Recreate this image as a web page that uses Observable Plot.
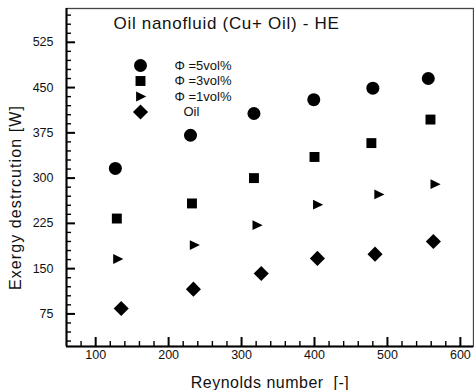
<!DOCTYPE html>
<html>
<head>
<meta charset="utf-8">
<script src="https://cdn.jsdelivr.net/npm/d3@7"></script>
<script src="https://cdn.jsdelivr.net/npm/@observablehq/plot@0.6"></script>
<style>
  html, body { margin: 0; padding: 0; background: #fff; }
  #chart svg { display: block; }
</style>
</head>
<body>
<div id="chart"></div>
<script>
// ---- data ----
const title = "Oil nanofluid (Cu+ Oil) - HE";
const xLabel = "Reynolds number  [-]";
const yLabel = "Exergy destrcution [W]";

const seriesNames = ["\u03A6 =5vol%", "\u03A6 =3vol%", "\u03A6 =1vol%", "Oil"];

const re5 = [127, 230, 317, 399, 480, 556];
const ex5 = [316, 371, 407, 430, 449, 465];

const re3 = [129, 232, 317, 400, 478, 559];
const ex3 = [233, 258, 300, 335, 358, 397];

const re1 = [130, 235, 321, 404, 488, 565];
const ex1 = [166, 189, 222, 256, 273, 290];

const reOil = [135, 234, 327, 404, 483, 563];
const exOil = [84, 116, 142, 167, 174, 195];

const xTicks = [100, 200, 300, 400, 500, 600];
const yTicks = [75, 150, 225, 300, 375, 450, 525];
const xDomain = [60, 618];
const yDomain = [21, 581];

// ---- layout ----
const W = 474, H = 390;
const mL = 66, mT = 8, mR = 1, mB = 44;
const frameW = W - mL - mR, frameH = H - mT - mB;
const majorLen = 9, minorLen = 5;
// tick lengths expressed in data units through the scale spans
const yPerPx = (yDomain[1] - yDomain[0]) / frameH;
const xPerPx = (xDomain[1] - xDomain[0]) / frameW;

// ---- derived ----
const xMinor = d3.range(80, 618, 20).filter(v => !xTicks.includes(v));
const yMinor = d3.range(30, 581, 15).filter(v => !yTicks.includes(v));

const rightTriangle = {
  draw(context, size) {
    const r = Math.sqrt(size / Math.PI);
    context.moveTo(r * 1.0, 0);
    context.lineTo(-r * 0.75, -r * 0.85);
    context.lineTo(-r * 0.75, r * 0.85);
    context.closePath();
  }
};
const symbols = [d3.symbolCircle, d3.symbolSquare, rightTriangle, d3.symbolDiamond2];
const radii = [6.5, 5.6, 5.8, 6.8];

const groups = [[re5, ex5], [re3, ex3], [re1, ex1], [reOil, exOil]];
const rows = groups.flatMap(([xs, ys], s) => xs.map((x, i) => ({series: s, x, y: ys[i]})));

const font = "'Liberation Sans', Arial, Helvetica, sans-serif";

const marks = [];
// frame
marks.push(Plot.frame({stroke: "#444", strokeWidth: 1.3, fill: "none"}));
// data points
groups.forEach((g, s) => {
  marks.push(Plot.dot(rows.filter(d => d.series === s), {
    x: "x", y: "y", symbol: () => symbols[s], r: radii[s], fill: "#000", stroke: "none"
  }));
});
// tick labels
marks.push(Plot.axisX(xTicks, {anchor: "bottom", tickSize: 0, tickPadding: 4, fontSize: 12.5, fill: "#111", label: null}));
marks.push(Plot.axisY(yTicks, {anchor: "left", tickSize: 0, tickPadding: 13, fontSize: 12.5, fill: "#111", label: null}));
// axis labels
marks.push(Plot.text([xLabel], {frameAnchor: "bottom", dy: 36, text: d => d, fontSize: 16, fill: "#111", textAnchor: "middle", lineAnchor: "middle", fontFamily: font}));
marks.push(Plot.text([yLabel], {frameAnchor: "left", dx: -51, dy: 20, rotate: -90, text: d => d, fontSize: 16, fill: "#111", textAnchor: "middle", lineAnchor: "middle", fontFamily: font}));
// title inside frame
marks.push(Plot.text([title], {frameAnchor: "top-left", dx: 47, dy: 15, text: d => d, fontSize: 17, fill: "#111", textAnchor: "start", lineAnchor: "middle", fontFamily: font}));
// legend
seriesNames.forEach((name, i) => {
  marks.push(Plot.dot([name], {frameAnchor: "top-left", dx: 74, dy: 57 + i * 15.5, symbol: () => symbols[i], r: radii[i], fill: "#000", stroke: "none"}));
  marks.push(Plot.text([name], {frameAnchor: "top-left", dx: i === 3 ? 117 : 108, dy: 57 + i * 15.5, text: d => d, fontSize: 13, fill: "#111", textAnchor: "start", lineAnchor: "middle", fontFamily: font}));
});
// axis lines and inward ticks, drawn last
marks.push(Plot.ruleY([yDomain[0]], {stroke: "black", strokeWidth: 2}));
marks.push(Plot.ruleX([xDomain[0]], {stroke: "black", strokeWidth: 2}));
marks.push(Plot.ruleX(xTicks, {x: d => d, y1: yDomain[0], y2: yDomain[0] + majorLen * yPerPx, stroke: "black", strokeWidth: 2}));
marks.push(Plot.ruleX(xMinor, {x: d => d, y1: yDomain[0], y2: yDomain[0] + minorLen * yPerPx, stroke: "black", strokeWidth: 1.4}));
marks.push(Plot.ruleY(yTicks, {y: d => d, x1: xDomain[0], x2: xDomain[0] + majorLen * xPerPx, stroke: "black", strokeWidth: 2}));
marks.push(Plot.ruleY(yMinor, {y: d => d, x1: xDomain[0], x2: xDomain[0] + minorLen * xPerPx, stroke: "black", strokeWidth: 1.4}));

const chart = Plot.plot({
  width: W,
  height: H,
  marginLeft: mL,
  marginTop: mT,
  marginRight: mR,
  marginBottom: mB,
  style: {fontFamily: font, background: "#fff"},
  x: {domain: xDomain, axis: null},
  y: {domain: yDomain, axis: null},
  marks
});
// letter spacing to match the wide lettering of the reference
d3.select(chart).selectAll("text").each(function() {
  const t = this.textContent;
  if (t === xLabel) this.setAttribute("letter-spacing", "0.5");
  if (t === yLabel) this.setAttribute("letter-spacing", "1.1");
  if (t === title) this.setAttribute("letter-spacing", "0.7");
});
document.getElementById("chart").appendChild(chart);
</script>
</body>
</html>
